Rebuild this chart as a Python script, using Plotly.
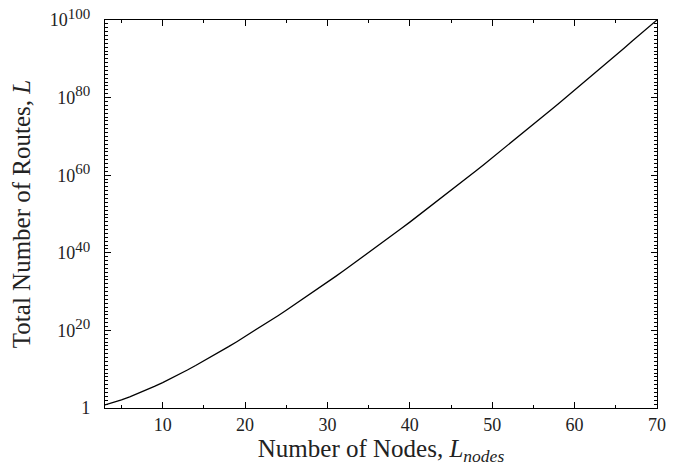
import plotly.graph_objects as go

# Number of nodes (x) and log10 of total number of routes
nodes = list(range(3, 71))
log_routes = [0.78, 1.38, 2.08, 2.86, 3.70, 4.61, 5.56, 6.56, 7.60, 8.68,
              9.79, 10.94, 12.12, 13.32, 14.55, 15.81, 17.09, 18.39, 19.71, 21.05,
              22.41, 23.79, 25.19, 26.61, 28.04, 29.48, 30.95, 32.42, 33.92, 35.42,
              36.94, 38.47, 40.01, 41.57, 43.14, 44.72, 46.31, 47.91, 49.53, 51.15,
              52.78, 54.42, 56.08, 57.74, 59.41, 61.09, 62.78, 64.48, 66.19, 67.91,
              69.63, 71.36, 73.10, 74.85, 76.61, 78.37, 80.14, 81.92, 83.71, 85.50,
              87.30, 89.10, 90.92, 92.74, 94.56, 96.39, 98.23, 100.0]
routes = [10.0 ** v for v in log_routes]

x_ticks = [10, 20, 30, 40, 50, 60, 70]
x_minor = [5, 15, 25, 35, 45, 55, 65]
y_exps = [0, 20, 40, 60, 80, 100]
y_ticktext = ["1"] + ["10<sup><span style='font-size:15px'>%d</span></sup>" % e
                      for e in y_exps[1:]]

font_family = "Liberation Serif, DejaVu Serif, serif"
text_color = "#222"

fig = go.Figure()
fig.add_trace(go.Scatter(x=nodes, y=routes, mode="lines",
                         line=dict(color="black", width=1.3),
                         showlegend=False))

axis_common = dict(showline=True, linecolor="black", linewidth=1.3, mirror="allticks",
                   ticks="inside", ticklen=6, tickwidth=1, tickcolor="black",
                   showgrid=False, zeroline=False,
                   tickfont=dict(family=font_family, size=18, color=text_color))

fig.update_xaxes(range=[3, 70], tickvals=x_ticks,
                 minor=dict(tickvals=x_minor, ticks="inside", ticklen=3,
                            tickcolor="black", tickwidth=1),
                 title=dict(text="Number of Nodes, <i>L</i><sub><i>nodes</i></sub>",
                            font=dict(family=font_family, size=25, color=text_color),
                            standoff=8),
                 **axis_common)
fig.update_yaxes(type="log", range=[0, 100],
                 tickvals=[10.0 ** e for e in y_exps], ticktext=y_ticktext,
                 ticklabelstandoff=10,
                 minor=dict(tickvals=[10.0 ** e for e in range(0, 101)], ticks="inside",
                            ticklen=3, tickcolor="black", tickwidth=1),
                 title=dict(text="Total Number of Routes, <i>L</i>",
                            font=dict(family=font_family, size=25, color=text_color),
                            standoff=12),
                 **axis_common)

fig.update_layout(width=677, height=466, plot_bgcolor="white", paper_bgcolor="white",
                  margin=dict(l=105, r=20, t=20, b=58, autoexpand=False),
                  font=dict(family=font_family, color=text_color))

fig.write_html("out.html", config={"displayModeBar": False},
               post_script="document.body.style.margin='0';document.body.style.overflow='hidden';")
